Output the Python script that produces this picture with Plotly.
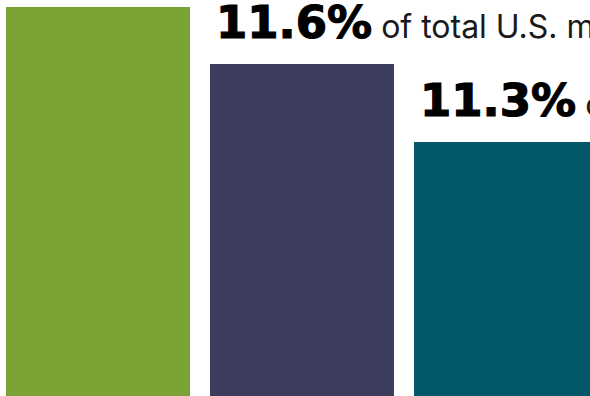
import plotly.graph_objects as go

# Share values (percent) for the three bars
categories = ["A", "B", "C"]
values = [11.82, 11.6, 11.3]
bar_colors = ["#7AA234", "#3C3C5C", "#025868"]
label_values = [None, "11.6%", "11.3%"]
label_suffix = " of total U.S. market"

fig = go.Figure()
fig.add_trace(go.Bar(
    x=list(range(len(categories))),
    y=values,
    marker=dict(color=bar_colors, line=dict(width=0)),
    width=0.902,
    hoverinfo="skip",
))

for i, (v, lab) in enumerate(zip(values, label_values)):
    if lab is None:
        continue
    fig.add_annotation(
        x=i - 0.451, y=v, xref="x", yref="y",
        xanchor="left", yanchor="bottom",
        text=('<span style="font-family:DejaVu Sans;font-weight:bold;font-size:45px;'
              'fill:#000;stroke:#000;stroke-width:1.2px">'
              + lab + '</span>' + label_suffix),
        showarrow=False,
        font=dict(family="Inter", size=32, color="#1a1a1a"),
        xshift=4, yshift=13,
        align="left",
    )

fig.update_layout(
    width=590, height=396,
    margin=dict(l=0, r=0, t=0, b=0),
    paper_bgcolor="white", plot_bgcolor="white",
    showlegend=False,
    bargap=0,
    xaxis=dict(range=[-0.4804, 2.4118], visible=False, fixedrange=True),
    yaxis=dict(range=[10.323, 11.846], visible=False, fixedrange=True),
)

fig.write_html("out.html", config={"displayModeBar": False})
